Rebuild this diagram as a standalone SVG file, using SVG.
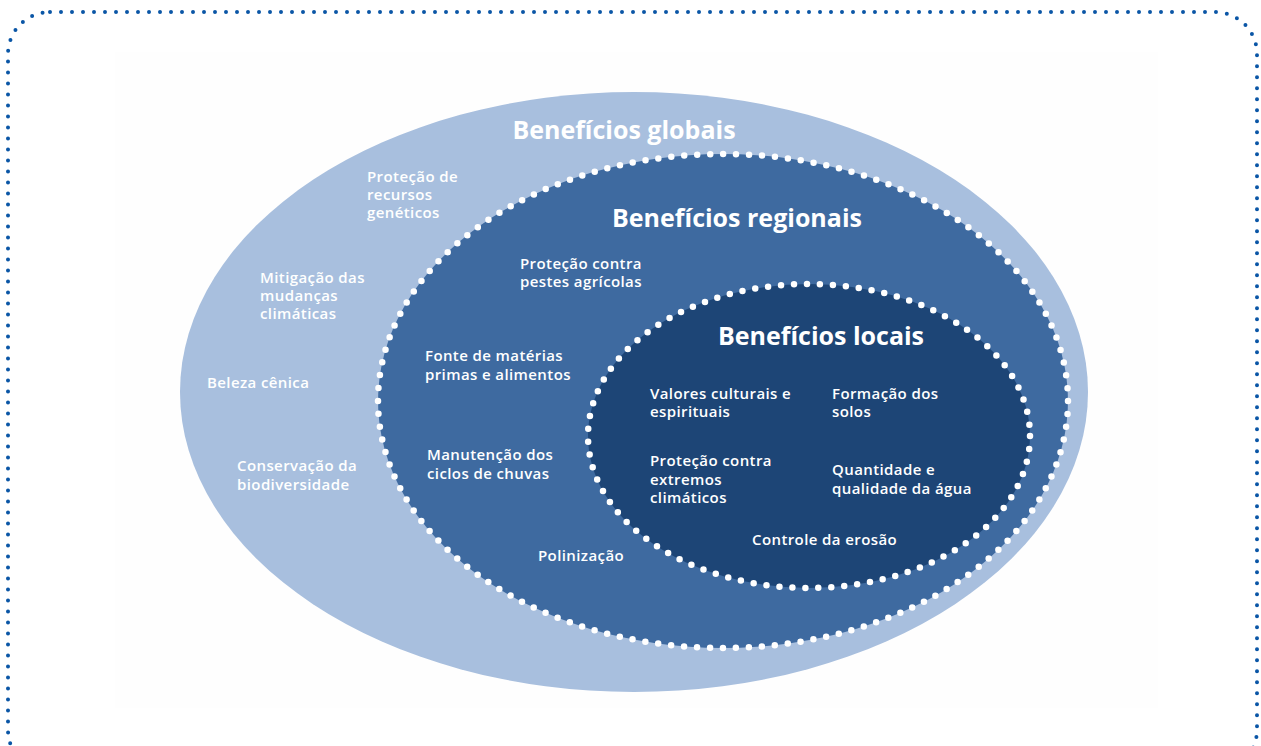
<svg xmlns="http://www.w3.org/2000/svg" width="1261" height="746" viewBox="0 0 1261 746">
<style>
.t{font-family:"Open Sans","Noto Sans",sans-serif;fill:#fff;font-size:15px;font-weight:600;letter-spacing:0.4px}
.h{font-family:"Open Sans","Noto Sans",sans-serif;fill:#fff;font-size:25px;font-weight:700}
.dots{fill:none;stroke:#fff;stroke-width:6.5;stroke-linecap:round;stroke-dasharray:0 13}
</style>
<rect x="0" y="0" width="1261" height="746" fill="#fff"/>
<rect x="115" y="52" width="1043" height="656" fill="#fefefe"/>
<rect x="8" y="12" width="1249" height="760" rx="42" fill="none" stroke="#0a56a6" stroke-width="4" stroke-linecap="round" stroke-dasharray="0 11"/>
<g id="globais">
<ellipse cx="634" cy="392" rx="454" ry="300" fill="#a8bfde"/>
<text class="h" x="624" y="139" text-anchor="middle">Benefícios globais</text>
<text class="t" x="367" y="182">Proteção de</text>
<text class="t" x="367" y="200">recursos</text>
<text class="t" x="367" y="218">genéticos</text>
<text class="t" x="260" y="283">Mitigação das</text>
<text class="t" x="260" y="301">mudanças</text>
<text class="t" x="260" y="319">climáticas</text>
<text class="t" x="207" y="388">Beleza cênica</text>
<text class="t" x="237" y="471">Conservação da</text>
<text class="t" x="237" y="490">biodiversidade</text>
</g>
<g id="regionais">
<ellipse cx="723" cy="401" rx="345" ry="247" fill="#3e6aa0"/>
<ellipse class="dots" cx="723" cy="401" rx="345" ry="247"/>
<text class="h" x="737" y="227" text-anchor="middle">Benefícios regionais</text>
<text class="t" x="520" y="269">Proteção contra</text>
<text class="t" x="520" y="287">pestes agrícolas</text>
<text class="t" x="425" y="361">Fonte de matérias</text>
<text class="t" x="425" y="380">primas e alimentos</text>
<text class="t" x="427" y="460">Manutenção dos</text>
<text class="t" x="427" y="479">ciclos de chuvas</text>
<text class="t" x="538" y="561">Polinização</text>
</g>
<g id="locais">
<ellipse cx="809" cy="436" rx="221" ry="152" fill="#1d4576"/>
<ellipse class="dots" cx="809" cy="436" rx="221" ry="152"/>
<text class="h" x="821" y="345" text-anchor="middle">Benefícios locais</text>
<text class="t" x="650" y="399">Valores culturais e</text>
<text class="t" x="650" y="417">espirituais</text>
<text class="t" x="832" y="399">Formação dos</text>
<text class="t" x="832" y="417">solos</text>
<text class="t" x="650" y="466">Proteção contra</text>
<text class="t" x="650" y="485">extremos</text>
<text class="t" x="650" y="503">climáticos</text>
<text class="t" x="832" y="475">Quantidade e</text>
<text class="t" x="832" y="494">qualidade da água</text>
<text class="t" x="752" y="545">Controle da erosão</text>
</g>
<g id="connectors"></g>
</svg>
